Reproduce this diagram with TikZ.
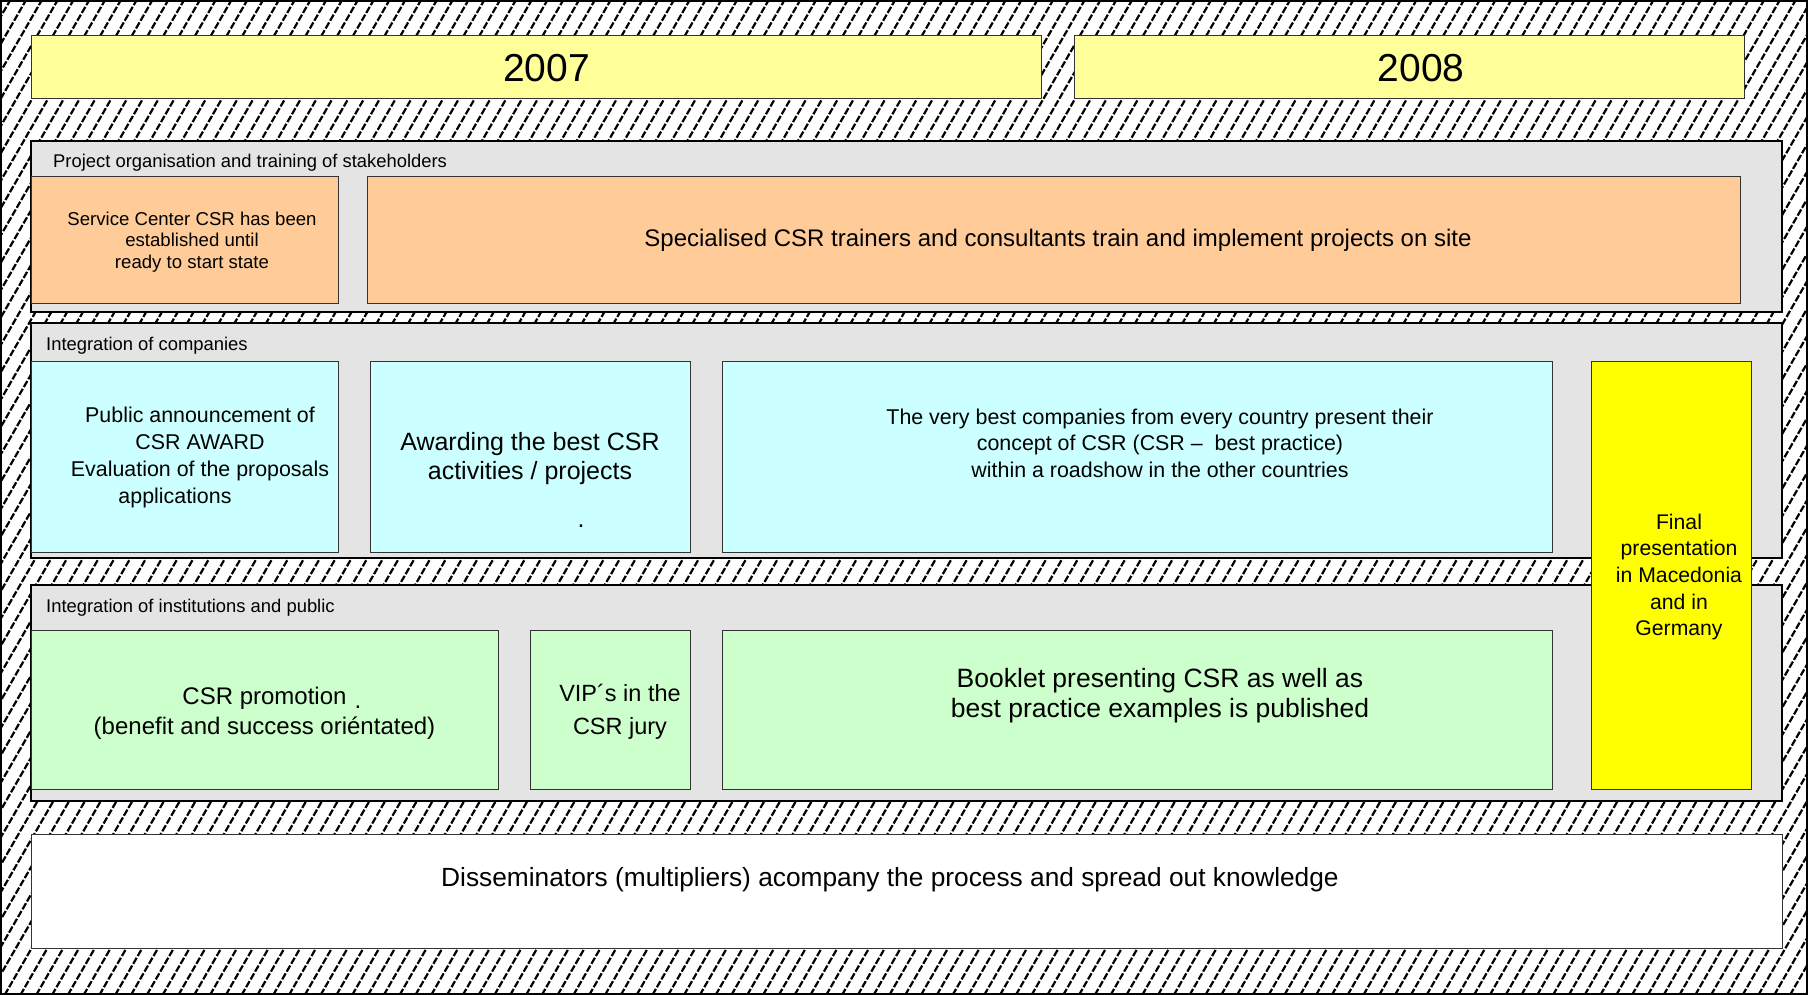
\documentclass[tikz,border=0pt]{standalone}
\usepackage{fontspec}
\setmainfont{Liberation Sans}
\definecolor{yearyellow}{HTML}{FFFF99}
\definecolor{bandgrey}{HTML}{E4E4E4}
\definecolor{trainorange}{HTML}{FFCC99}
\definecolor{companycyan}{HTML}{CCFFFF}
\definecolor{publicgreen}{HTML}{CCFFCC}
\definecolor{finalyellow}{HTML}{FFFF00}
\newcommand{\fsize}[2]{\fontsize{#1}{#2}\selectfont}

\begin{document}
\begin{tikzpicture}[x=1pt,y=-1pt]
\tikzstyle{every node}=[inner sep=0pt, font=\fsize{18.4}{22}]
\tikzstyle{hatchline}=[line width=2.2pt, dash pattern=on 7pt off 2pt]
\tikzstyle{band}=[draw=black, line width=1.4pt, fill=bandgrey]
\tikzstyle{cell}=[draw=black!80, line width=0.9pt]
\tikzstyle{celltext}=[align=center]
\tikzstyle{bandtitle}=[anchor=base west]

\useasboundingbox (0,0) rectangle (1808,995);
\begin{scope}
\clip (0,0) rectangle (1808,995);
\foreach \hx in {-580,-564.2,...,1810}
	\draw[hatchline] (\hx,995) -- ++(574.5,-995);
\end{scope}
\draw[line width=2pt] (1,1) rectangle (1807,994);

\node[cell, fill=yearyellow, minimum width=1010pt, minimum height=63pt] (y2007) at (536,66.5) {};
\node[cell, fill=yearyellow, minimum width=670pt, minimum height=63pt] (y2008) at (1409,66.5) {};
\node[font=\fsize{39}{44}] (t2007) at (546.5,68) {2007};
\node[font=\fsize{39}{44}] (t2008) at (1421,68) {2008};

\node[band, minimum width=1751pt, minimum height=171pt] (orgband) at (906.5,226.5) {};
\node[band, minimum width=1751pt, minimum height=235pt] (compband) at (906.5,440.5) {};
\node[band, minimum width=1751pt, minimum height=216pt] (pubband) at (906.5,693) {};
\node[bandtitle] (orgtitle) at (53,168) {Project organisation and training of stakeholders};
\node[bandtitle] (comptitle) at (46,350) {Integration of companies};
\node[bandtitle] (pubtitle) at (46,612) {Integration of institutions and public};

\node[cell, fill=trainorange, minimum width=307pt, minimum height=127pt] (service) at (184.5,239.5) {};
\node[cell, fill=trainorange, minimum width=1373pt, minimum height=127pt] (trainers) at (1053.5,239.5) {};
\node[celltext, font=\fsize{18.6}{21.5}] (servicetxt) at (192,241.8)
	{Service Center CSR has been\\established until\\ready to start state};
\node[font=\fsize{24}{28}] (trainerstxt) at (1058,240)
	{Specialised CSR trainers and consultants train and implement projects on site};

\node[cell, fill=companycyan, minimum width=307pt, minimum height=191pt] (announce) at (184.5,456.5) {};
\node[cell, fill=companycyan, minimum width=320pt, minimum height=191pt] (awarding) at (530,456.5) {};
\node[cell, fill=companycyan, minimum width=830pt, minimum height=191pt] (roadshow) at (1137,456.5) {};
\node[celltext, font=\fsize{21.4}{27}] (announcetxt) at (200,457)
	{Public announcement of\\CSR AWARD\\Evaluation of the proposals\\applications\hspace*{50pt}};
\node[celltext, font=\fsize{25}{29}] (awardingtxt) at (530,458.5)
	{Awarding the best CSR\\activities / projects};
\node[font=\fsize{25}{29}] (awardingdot) at (581,526) {.};
\node[celltext, font=\fsize{21.4}{26.5}] (roadshowtxt) at (1160,443)
	{The very best companies from every country present their\\concept of CSR (CSR \textendash\ \ best practice)\\within a roadshow in the other countries};

\node[cell, fill=publicgreen, minimum width=467pt, minimum height=159pt] (promotion) at (264.5,709.5) {};
\node[cell, fill=publicgreen, minimum width=160pt, minimum height=159pt] (vips) at (610,709.5) {};
\node[cell, fill=publicgreen, minimum width=830pt, minimum height=159pt] (booklet) at (1137,709.5) {};
\node[celltext, font=\fsize{24}{30}] (promotiontxt) at (264.5,713)
	{CSR promotion\\(benefit and success oriéntated)};
\node[font=\fsize{24}{30}] (promotiondot) at (358,707) {.};
\node[celltext, font=\fsize{23.5}{33}] (vipstxt) at (620,712)
	{VIP´s in the\\CSR jury};
\node[celltext, font=\fsize{26.5}{30}] (booklettxt) at (1160,696)
	{Booklet presenting CSR as well as\\best practice examples is published};

\node[cell, fill=finalyellow, minimum width=160pt, minimum height=428pt] (final) at (1671,575) {};
\node[celltext, font=\fsize{21.2}{26.6}] (finaltxt) at (1679,577)
	{Final\\presentation\\in Macedonia\\and in\\Germany};

\node[cell, fill=white, minimum width=1751pt, minimum height=114pt] (spread) at (906.5,891) {};
\node[font=\fsize{26.3}{30}] (spreadtxt) at (890,880)
	{Disseminators (multipliers) acompany the process and spread out knowledge};
\end{tikzpicture}
\end{document}
